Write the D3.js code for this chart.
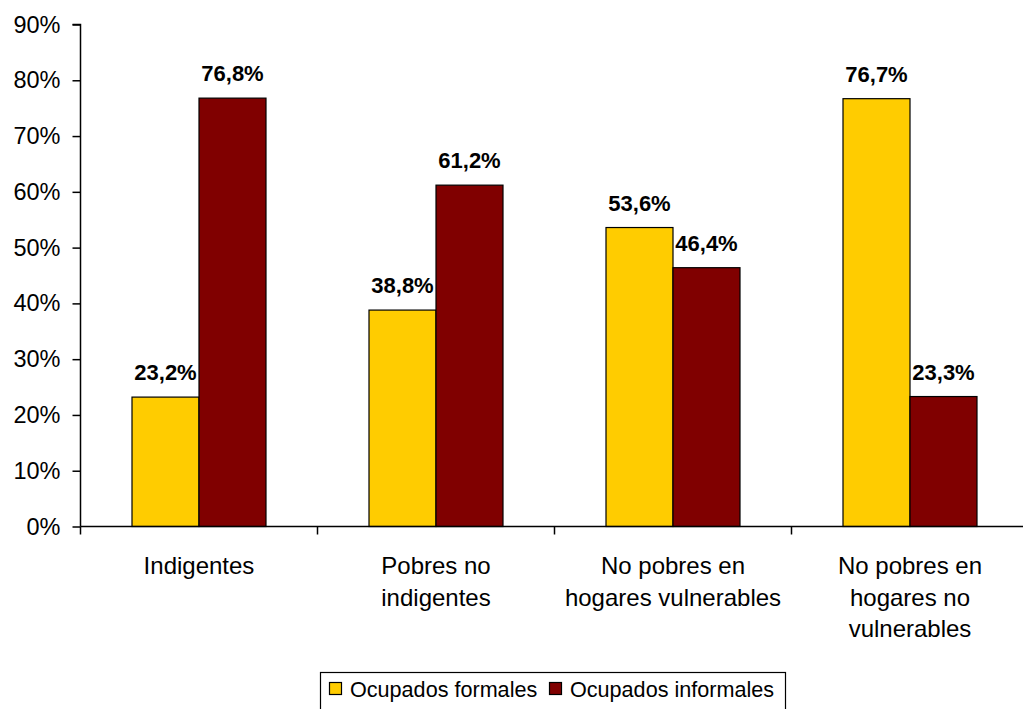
<!DOCTYPE html>
<html><head><meta charset="utf-8">
<script src="https://cdn.jsdelivr.net/npm/d3@7"></script>
<style>body{margin:0;background:#fff}svg{display:block}text{font-family:Arial,"Liberation Sans",sans-serif}</style>
</head><body>
<svg id="c" width="1023" height="709"></svg>
<script>
const categories = [["Indigentes"],["Pobres no","indigentes"],["No pobres en","hogares vulnerables"],["No pobres en","hogares no","vulnerables"]];
const seriesNames = ["Ocupados formales","Ocupados informales"];
const formales = [23.2, 38.8, 53.6, 76.7];
const informales = [76.8, 61.2, 46.4, 23.3];
const yTicks = [0,10,20,30,40,50,60,70,80,90];
const colors = ["#FFCC00","#800000"];

const svg = d3.select("#c");
const x0 = 80.5, catW = 237;
const x = d3.scaleBand().domain(d3.range(categories.length)).range([x0, x0+catW*categories.length]).paddingInner(0).paddingOuter(0);
const y = d3.scaleLinear().domain([0,90]).range([526.5,24.5]);
const series = [formales, informales];
const barW = 67, offset = (catW - 2*barW)/2;

// y axis
const ya = svg.append("g").attr("transform",`translate(${x0},0)`)
  .call(d3.axisLeft(y).tickValues(yTicks).tickFormat(d=>d+"%").tickSize(8).tickPadding(12));
ya.select(".domain").attr("d",`M-8,${y(90)}H0V${y(0)}`).attr("stroke","#000").attr("stroke-width",1.5);
ya.selectAll(".tick line").attr("stroke","#000").attr("stroke-width",1.5);
ya.selectAll(".tick text").attr("font-size",23.5).attr("fill","#000").attr("font-family","Arial, 'Liberation Sans', sans-serif");

// bars
series.forEach((vals,s)=>{
  svg.append("g").selectAll("rect").data(vals).join("rect")
    .attr("x",(d,i)=>x(i)+offset+s*barW).attr("width",barW)
    .attr("y",d=>y(d)).attr("height",d=>y(0)-y(d))
    .attr("fill",colors[s]).attr("stroke","#000").attr("stroke-width",1.2);
  svg.append("g").selectAll("text").data(vals).join("text")
    .attr("x",(d,i)=>x(i)+offset+s*barW+barW/2).attr("y",d=>y(d)-17)
    .attr("text-anchor","middle").attr("font-size",22).attr("font-weight","bold")
    .text(d=>d.toFixed(1).replace(".",",")+"%");
});

// x axis
const xa = svg.append("g").attr("transform",`translate(0,${y(0)})`);
xa.append("line").attr("x1",x0).attr("x2",1023).attr("stroke","#000").attr("stroke-width",1.5);
xa.selectAll("line.t").data(d3.range(categories.length+1)).join("line").attr("class","t")
  .attr("x1",i=>x0+i*catW).attr("x2",i=>x0+i*catW).attr("y1",0).attr("y2",8)
  .attr("stroke","#000").attr("stroke-width",1.5);
categories.forEach((lines,i)=>{
  const t = svg.append("text").attr("text-anchor","middle").attr("font-size",24)
    .attr("x",x(i)+catW/2);
  lines.forEach((l,j)=>t.append("tspan").attr("x",x(i)+catW/2).attr("y",574+j*31.5).text(l));
});

// legend
const lg = svg.append("g");
lg.append("rect").attr("x",320.5).attr("y",672.5).attr("width",465).attr("height",40).attr("fill","#fff").attr("stroke","#000").attr("stroke-width",1.2);
const lx = [329.5, 549.5];
seriesNames.forEach((n,i)=>{
  lg.append("rect").attr("x",lx[i]).attr("y",682.5).attr("width",12).attr("height",12).attr("fill",colors[i]).attr("stroke","#000").attr("stroke-width",1.2);
  lg.append("text").attr("x",lx[i]+20.5).attr("y",697).attr("font-size",21.6).text(n);
});
</script>
</body></html>
